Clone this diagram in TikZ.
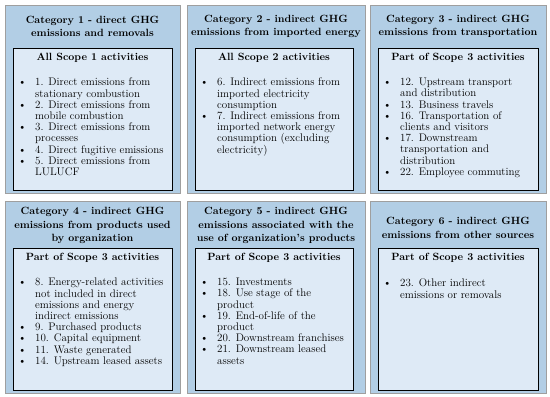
\documentclass[tikz,border=0pt]{standalone}
\definecolor{outerblue}{RGB}{178,206,229}
\definecolor{innerblue}{RGB}{222,234,246}
\newcommand{\itembul}{\makebox[22pt][l]{\hspace{5pt}\textbullet}}
\newcommand{\itemcont}{\hspace*{22pt}}

\begin{document}
\begin{tikzpicture}[x=1pt,y=-1pt,
    outerbox/.style={draw=gray!75, line width=1pt, fill=outerblue, anchor=north west, inner sep=0pt},
    innerbox/.style={draw=black, line width=1.3pt, fill=innerblue, anchor=north west, inner sep=0pt},
    cattitle/.style={align=center, inner sep=0pt, font=\bfseries\fontsize{10.5}{13.3}\selectfont},
    scopetitle/.style={inner sep=0pt, font=\bfseries\fontsize{10.5}{13}\selectfont},
    itemlist/.style={anchor=north west, align=left, inner sep=0pt,
      font=\fontsize{11}{11.2}\selectfont}]
    % Page
    \path[use as bounding box, fill=white] (0,0) rectangle (550,397);

    % Category boxes, top row
    \node[outerbox, minimum width=175pt, minimum height=188pt] (cat1) at (5,5) {};
    \node[outerbox, minimum width=178pt, minimum height=188pt] (cat2) at (187,5) {};
    \node[outerbox, minimum width=176pt, minimum height=188pt] (cat3) at (370,5) {};
    % Category boxes, bottom row
    \node[outerbox, minimum width=175pt, minimum height=192pt] (cat4) at (5,201) {};
    \node[outerbox, minimum width=178pt, minimum height=192pt] (cat5) at (187,201) {};
    \node[outerbox, minimum width=176pt, minimum height=192pt] (cat6) at (370,201) {};

    % Scope boxes
    \node[innerbox, minimum width=159pt, minimum height=142pt] (scope1) at (13,48) {};
    \node[innerbox, minimum width=158pt, minimum height=142pt] (scope2) at (195,48) {};
    \node[innerbox, minimum width=160pt, minimum height=142pt] (scope3) at (378,48) {};
    \node[innerbox, minimum width=159pt, minimum height=142pt] (scope4) at (13,248) {};
    \node[innerbox, minimum width=158pt, minimum height=142pt] (scope5) at (195,248) {};
    \node[innerbox, minimum width=160pt, minimum height=142pt] (scope6) at (378,248) {};

    % Category titles
    \node[cattitle] (title1) at (92.5,26.5) {Category 1 - direct GHG\\ emissions and removals};
    \node[cattitle] (title2) at (276,26.5) {Category 2 - indirect GHG\\ emissions from imported energy};
    \node[cattitle] (title3) at (458,26.5) {Category 3 - indirect GHG\\ emissions from transportation};
    \node[cattitle] (title4) at (92.5,225.5) {Category 4 - indirect GHG\\ emissions from products used\\ by organization};
    \node[cattitle] (title5) at (276,225.5) {Category 5 - indirect GHG\\ emissions associated with the\\ use of organization's products};
    \node[cattitle] (title6) at (458,228) {Category 6 - indirect GHG\\ emissions from other sources};

    % Scope headings
    \node[scopetitle] (head1) at (92.5,58) {All Scope 1 activities};
    \node[scopetitle] (head2) at (274,58) {All Scope 2 activities};
    \node[scopetitle] (head3) at (458,58) {Part of Scope 3 activities};
    \node[scopetitle] (head4) at (92.5,258) {Part of Scope 3 activities};
    \node[scopetitle] (head5) at (274,258) {Part of Scope 3 activities};
    \node[scopetitle] (head6) at (458,258) {Part of Scope 3 activities};

    % Activity lists
    \node[itemlist] (list1) at (13,78) {\itembul 1. Direct emissions from\\ \itemcont stationary combustion\\
      \itembul 2. Direct emissions from\\ \itemcont mobile combustion\\
      \itembul 3. Direct emissions from\\ \itemcont processes\\
      \itembul 4. Direct fugitive emissions\\
      \itembul 5. Direct emissions from\\ \itemcont LULUCF};
    \node[itemlist] (list2) at (195,78) {\itembul 6. Indirect emissions from\\ \itemcont imported electricity\\ \itemcont consumption\\
      \itembul 7. Indirect emissions from\\ \itemcont imported network energy\\ \itemcont consumption (excluding\\ \itemcont electricity)};
    \node[itemlist] (list3) at (378,78) {\itembul 12. Upstream transport\\ \itemcont and distribution\\
      \itembul 13. Business travels\\
      \itembul 16. Transportation of\\ \itemcont clients and visitors\\
      \itembul 17. Downstream\\ \itemcont transportation and\\ \itemcont distribution\\
      \itembul 22. Employee commuting};
    \node[itemlist] (list4) at (13,278) {\itembul 8. Energy-related activities\\ \itemcont not included in direct\\
      \itemcont emissions and energy\\ \itemcont indirect emissions\\
      \itembul 9. Purchased products\\
      \itembul 10. Capital equipment\\
      \itembul 11. Waste generated\\
      \itembul 14. Upstream leased assets};
    \node[itemlist] (list5) at (195,278) {\itembul 15. Investments\\
      \itembul 18. Use stage of the\\ \itemcont product\\
      \itembul 19. End-of-life of the\\ \itemcont product\\
      \itembul 20. Downstream franchises\\
      \itembul 21. Downstream leased\\ \itemcont assets};
    \node[itemlist] (list6) at (378,279) {\itembul 23. Other indirect\\ \itemcont emissions or removals};
\end{tikzpicture}
\end{document}
